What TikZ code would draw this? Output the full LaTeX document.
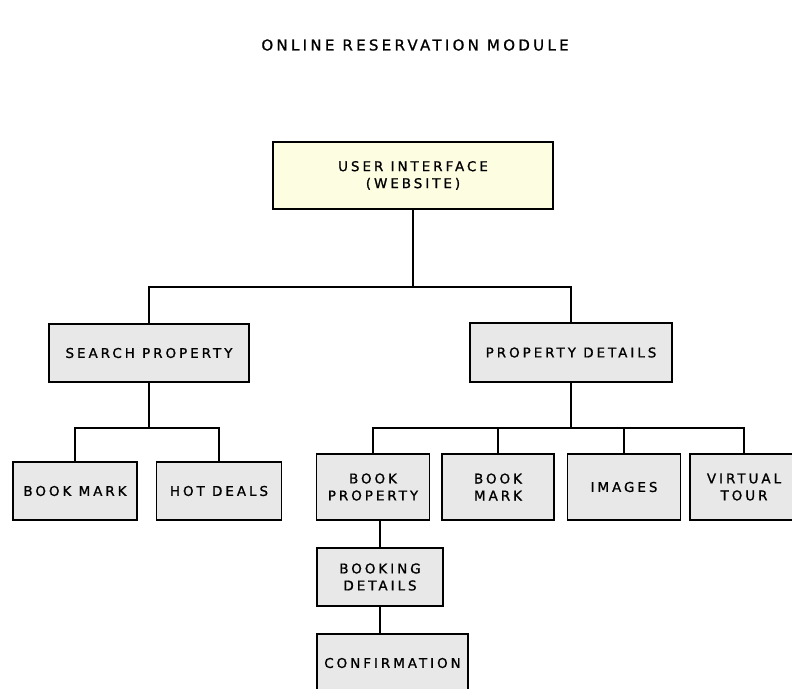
\documentclass[tikz,border=0pt]{standalone}
\usepackage{fontspec}
\usepackage{tikz}
\newfontfamily\pixfont{DejaVu Sans}[LetterSpace=22, FakeBold=1]

\tikzset{
	box/.style={draw, line width=1.3pt, fill=black!9, align=center, inner sep=0pt, font=\pixfont\fontsize{11.5}{14.5}\selectfont},
	link/.style={line width=1.3pt}
}

\begin{document}
\begin{tikzpicture}[x=0.03cm, y=-0.03cm]
	\useasboundingbox (0,0) rectangle (792,688);
	\clip (0,0) rectangle (792,688);

	\node[font=\pixfont\fontsize{12.8}{15}\selectfont] (title) at (415,45) {ONLINE RESERVATION MODULE};

	\node[box, fill={rgb,255:red,253;green,253;blue,226}, minimum width=8.4cm, minimum height=2.01cm] (ui) at (413,175.5) {USER INTERFACE\\(WEBSITE)};

	\node[box, minimum width=6cm, minimum height=1.74cm] (search) at (149,353) {SEARCH PROPERTY};
	\node[box, minimum width=6.06cm, minimum height=1.77cm] (details) at (571,352.5) {PROPERTY DETAILS};

	\node[box, minimum width=3.72cm, minimum height=1.74cm] (mark) at (75,491) {BOOK MARK};
	\node[box, minimum width=3.75cm, minimum height=1.74cm] (deals) at (219,491) {HOT DEALS};

	\node[box, minimum width=3.39cm, minimum height=1.98cm] (book) at (373,487) {BOOK\\PROPERTY};
	\node[box, minimum width=3.36cm, minimum height=1.98cm] (marktwo) at (498,487) {BOOK\\MARK};
	\node[box, minimum width=3.39cm, minimum height=1.98cm] (images) at (624,487) {IMAGES};
	\node[box, minimum width=3.24cm, minimum height=1.98cm] (tour) at (744,487) {VIRTUAL\\TOUR};

	\node[box, minimum width=3.78cm, minimum height=1.74cm] (booking) at (380,577) {BOOKING\\DETAILS};
	\node[box, minimum width=4.53cm, minimum height=1.74cm] (confirm) at (392.5,663) {CONFIRMATION};

	\coordinate (topjoint) at (413,287);
	\coordinate (leftjoint) at (149,428);
	\coordinate (rightjoint) at (571,428);

	\draw[link] (ui) -- (topjoint);
	\draw[link] (topjoint) -| (search);
	\draw[link] (topjoint) -| (details);

	\draw[link] (search) -- (leftjoint);
	\draw[link] (leftjoint) -| (mark);
	\draw[link] (leftjoint) -| (deals);

	\draw[link] (details) -- (rightjoint);
	\draw[link] (rightjoint) -| (book);
	\draw[link] (rightjoint) -| (marktwo);
	\draw[link] (rightjoint) -| (images);
	\draw[link] (rightjoint) -| (tour);

	\draw[link] (book.south -| booking.north) -- (booking.north);
	\draw[link] (booking.south) -- (booking.south |- confirm.north);
\end{tikzpicture}
\end{document}
